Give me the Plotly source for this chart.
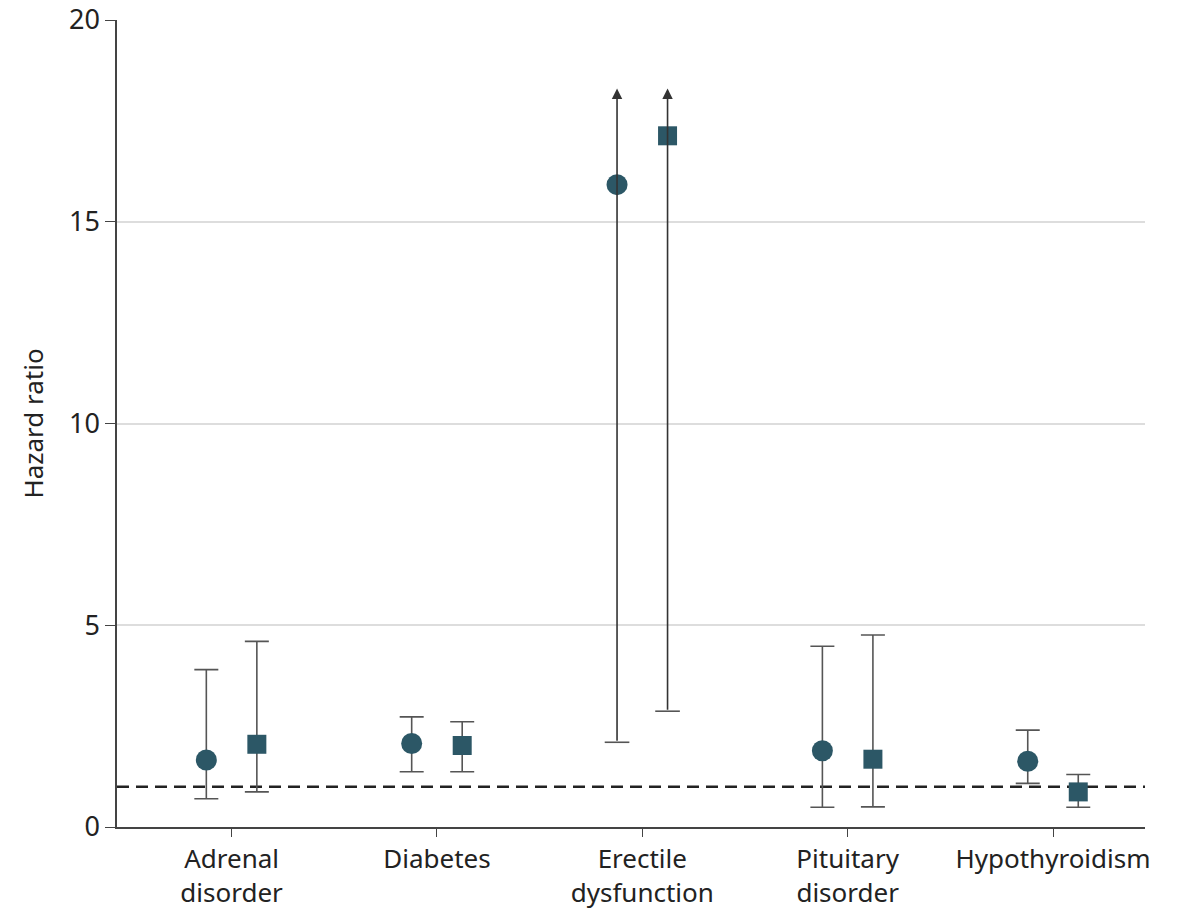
import plotly.graph_objects as go

# Hazard ratios with 95% CI for two models per condition
categories = ["Adrenal<br>disorder", "Diabetes", "Erectile<br>dysfunction",
              "Pituitary<br>disorder", "Hypothyroidism"]

hr_a = [1.66, 2.07, 15.92, 1.89, 1.63]
lo_a = [0.70, 1.37, 2.10, 0.49, 1.08]
hi_a = [3.90, 2.73, 18.3, 4.48, 2.40]

hr_b = [2.05, 2.02, 17.13, 1.68, 0.87]
lo_b = [0.87, 1.37, 2.87, 0.50, 0.49]
hi_b = [4.60, 2.61, 18.3, 4.76, 1.30]

# upper CI runs off the chart -> drawn as an arrow
open_upper = [False, False, True, False, False]

y_ticks = [0, 5, 10, 15, 20]
reference_hr = 1

MARK = "#2c5766"
BAR = "#555555"
FONT = "Noto Sans, Open Sans, sans-serif"
OFFSET = 0.123
CAP_HALF = 0.06

fig = go.Figure()
shapes = []
annotations = []

for hr, lo, hi, sym, side in [(hr_a, lo_a, hi_a, "circle", -1),
                              (hr_b, lo_b, hi_b, "square", 1)]:
    xs = [i + side * OFFSET for i in range(len(categories))]
    size = 21 if sym == "circle" else 19
    closed = [k for k in range(len(hr)) if not open_upper[k]]
    opened = [k for k in range(len(hr)) if open_upper[k]]
    fig.add_trace(go.Scatter(
        x=[xs[k] for k in closed], y=[hr[k] for k in closed], mode="markers",
        marker=dict(symbol=sym, size=size, color=MARK),
        error_y=dict(type="data", symmetric=False,
                     array=[hi[k] - hr[k] for k in closed],
                     arrayminus=[hr[k] - lo[k] for k in closed],
                     color=BAR, thickness=1.6, width=12),
        showlegend=False))
    for k in opened:
        annotations.append(dict(
            x=xs[k], y=hi[k], ax=xs[k], ay=lo[k], xref="x", yref="y",
            axref="x", ayref="y", text="", showarrow=True, arrowhead=2,
            arrowsize=1.3, arrowwidth=1.6, arrowcolor="#333333", standoff=0))
        shapes.append(dict(type="line", xref="x", yref="y",
                           x0=xs[k] - CAP_HALF, x1=xs[k] + CAP_HALF,
                           y0=lo[k], y1=lo[k],
                           line=dict(color=BAR, width=1.6)))
    fig.add_trace(go.Scatter(
        x=[xs[k] for k in opened], y=[hr[k] for k in opened], mode="markers",
        marker=dict(symbol=sym, size=size, color=MARK),
        showlegend=False))

shapes.append(dict(type="line", xref="paper", yref="y", x0=0, x1=1,
                   y0=reference_hr, y1=reference_hr,
                   line=dict(color="#222222", width=2.5, dash="12px,7px"),
                   layer="below"))

fig.update_layout(
    width=1179, height=909,
    margin=dict(l=117, r=34, t=20, b=82),
    plot_bgcolor="white", paper_bgcolor="white",
    font=dict(family=FONT, size=26, color="#222222"),
    shapes=shapes, annotations=annotations,
    xaxis=dict(range=[-0.558, 4.448], tickmode="array",
               tickvals=list(range(len(categories))), ticktext=categories,
               showgrid=False, zeroline=False, showline=True, linecolor="#444444",
               linewidth=1.5, ticks="outside", ticklen=8, tickcolor="#444444",
               tickfont=dict(size=26), automargin=False),
    yaxis=dict(range=[0, 20], tickvals=y_ticks, showgrid=True,
               gridcolor="#dddddd", gridwidth=1.5, zeroline=False, showline=True,
               linecolor="#444444", linewidth=1.5, ticks="outside", ticklen=10,
               tickcolor="#444444", tickfont=dict(size=27), automargin=False,
               title=dict(text="Hazard ratio", font=dict(size=26), standoff=18)),
)

fig.write_html("out.html")
